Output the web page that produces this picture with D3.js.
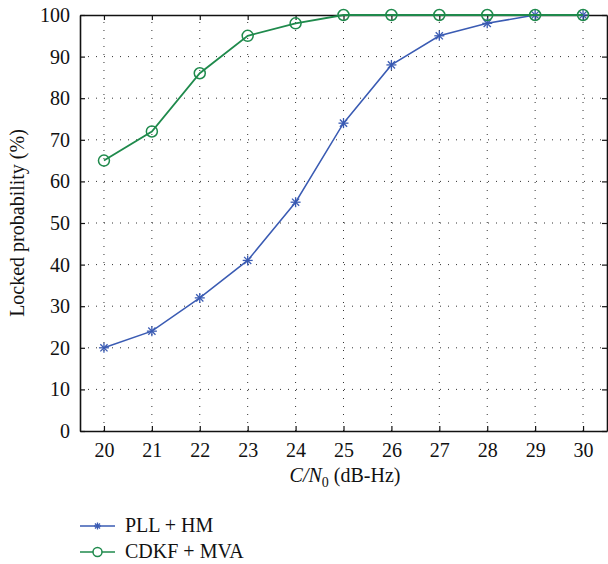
<!DOCTYPE html>
<html>
<head>
<meta charset="utf-8">
<script src="https://cdn.jsdelivr.net/npm/d3@7"></script>
<style>
  body { margin: 0; background: #fff; }
</style>
</head>
<body>
<div id="chart"></div>
<script>
const cn0 = [20, 21, 22, 23, 24, 25, 26, 27, 28, 29, 30];
const pllHm = [20, 24, 32, 41, 55, 74, 88, 95, 98, 100, 100];
const cdkfMva = [65, 72, 86, 95, 98, 100, 100, 100, 100, 100, 100];
const yTicks = [0, 10, 20, 30, 40, 50, 60, 70, 80, 90, 100];

const W = 608, H = 564;
const plotL = 80, plotR = 607, plotT = 15, plotB = 431;
const serif = "'Liberation Serif', 'DejaVu Serif', serif";

const svg = d3.select("#chart").append("svg")
    .attr("width", W).attr("height", H);

const x = d3.scaleLinear().domain([19.5, 30.5]).range([plotL, plotR]);
const y = d3.scaleLinear().domain([0, 100]).range([plotB, plotT]);

// grid
const grid = svg.append("g")
    .attr("stroke", "#333").attr("stroke-width", 1)
    .attr("stroke-dasharray", "1,7");
grid.selectAll(".gx").data(cn0).enter().append("line")
    .attr("x1", d => x(d)).attr("x2", d => x(d))
    .attr("y1", plotB).attr("y2", plotT);
grid.selectAll(".gy").data(yTicks.slice(1, -1)).enter().append("line")
    .attr("y1", d => y(d)).attr("y2", d => y(d))
    .attr("x1", plotL).attr("x2", plotR);

// axes with inward ticks
svg.append("g").attr("transform", `translate(0,${plotB})`)
    .call(d3.axisBottom(x).tickValues(cn0).tickSize(-5).tickPadding(12).tickSizeOuter(0));
svg.append("g").attr("transform", `translate(${plotL},0)`)
    .call(d3.axisLeft(y).tickValues(yTicks).tickSize(-5).tickPadding(10).tickSizeOuter(0));
svg.append("g").attr("transform", `translate(0,${plotT})`)
    .call(d3.axisTop(x).tickValues(cn0).tickSize(-5).tickFormat("").tickSizeOuter(0));
svg.append("g").attr("transform", `translate(${plotR},0)`)
    .call(d3.axisRight(y).tickValues(yTicks).tickSize(-5).tickFormat("").tickSizeOuter(0));

svg.selectAll(".domain").attr("stroke", "#111").attr("stroke-width", 1.6);
svg.selectAll(".tick line").attr("stroke", "#111").attr("stroke-width", 1.2);
svg.selectAll(".tick text").style("font-size", "20px").style("font-family", serif).attr("fill", "#111");

const blue = "#3a5bb3", green = "#1f8a4c";

const line = d3.line().x((d, i) => x(cn0[i])).y(d => y(d));

function star(g, cx, cy, col, r) {
  const s = g.append("g").attr("stroke", col).attr("stroke-width", 1.3);
  s.append("line").attr("x1", cx - r).attr("x2", cx + r).attr("y1", cy).attr("y2", cy);
  s.append("line").attr("x1", cx).attr("x2", cx).attr("y1", cy - r).attr("y2", cy + r);
  const k = r * 0.72;
  s.append("line").attr("x1", cx - k).attr("x2", cx + k).attr("y1", cy - k).attr("y2", cy + k);
  s.append("line").attr("x1", cx - k).attr("x2", cx + k).attr("y1", cy + k).attr("y2", cy - k);
}

svg.append("path").datum(pllHm).attr("d", line)
    .attr("fill", "none").attr("stroke", blue).attr("stroke-width", 1.5);
pllHm.forEach((v, i) => star(svg, x(cn0[i]), y(v), blue, 5));

svg.append("path").datum(cdkfMva).attr("d", line)
    .attr("fill", "none").attr("stroke", green).attr("stroke-width", 1.8);
svg.selectAll(".circ").data(cdkfMva).enter().append("circle")
    .attr("cx", (d, i) => x(cn0[i])).attr("cy", d => y(d)).attr("r", 5.5)
    .attr("fill", "none").attr("stroke", green).attr("stroke-width", 1.5);

// axis labels
const xl = svg.append("text").attr("x", 345).attr("y", 482)
    .attr("text-anchor", "middle").style("font-size", "20px")
    .style("font-family", serif).attr("fill", "#111");
xl.append("tspan").attr("font-style", "italic").text("C/N");
xl.append("tspan").attr("dy", 5).style("font-size", "14px").text("0");
xl.append("tspan").attr("dy", -5).text(" (dB-Hz)");

svg.append("text")
    .attr("transform", `translate(24,${(plotT + plotB) / 2}) rotate(-90)`)
    .attr("text-anchor", "middle").style("font-size", "20px")
    .style("font-family", serif).attr("fill", "#111")
    .text("Locked probability (%)");

// legend
const legend = svg.append("g");
const items = [{name: "PLL + HM", col: blue, mark: "star"}, {name: "CDKF + MVA", col: green, mark: "circle"}];
items.forEach((it, i) => {
  const ly = 526 + i * 26;
  legend.append("line").attr("x1", 80).attr("x2", 115).attr("y1", ly).attr("y2", ly)
      .attr("stroke", it.col).attr("stroke-width", 1.5);
  if (it.mark === "star") star(legend, 97.5, ly, it.col, 3.5);
  else legend.append("circle").attr("cx", 97.5).attr("cy", ly).attr("r", 4.5)
      .attr("fill", "#fff").attr("stroke", it.col).attr("stroke-width", 1.5);
  legend.append("text").attr("x", 125).attr("y", ly + 6).style("font-size", "20px")
      .style("font-family", serif).attr("fill", "#111").text(it.name);
});
</script>
</body>
</html>
